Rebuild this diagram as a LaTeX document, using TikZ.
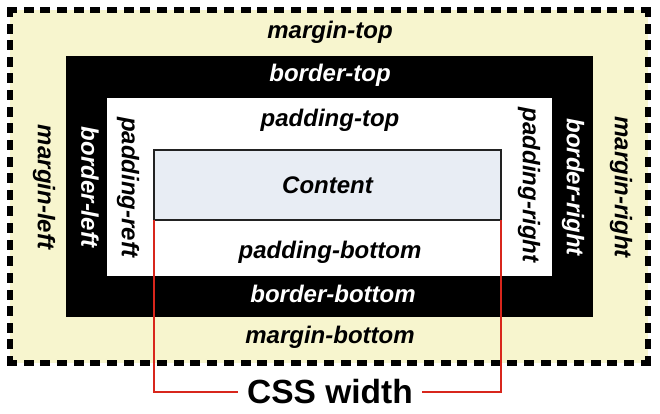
\documentclass[tikz,border=0pt]{standalone}
\usepackage{fontspec}
\setmainfont{Liberation Sans}
\definecolor{marginc}{HTML}{F7F5CE}
\definecolor{contentc}{HTML}{E8EDF4}
\definecolor{redc}{HTML}{D8261C}
\definecolor{edgec}{HTML}{222222}
\begin{document}
\begin{tikzpicture}[x=1pt,y=-1pt,
  area/.style={draw=none, inner sep=0pt, outer sep=0pt},
  lbl/.style={font=\fontsize{24}{28}\selectfont\bfseries\itshape, inner sep=0pt},
  wlbl/.style={lbl, text=white},
  vlbl/.style={lbl, rotate=-90},
  vwlbl/.style={wlbl, rotate=-90},
  dashside/.style={line width=6pt, line cap=rect, black},
  redline/.style={draw=redc, line width=2.5pt}]
\fill[white] (0,0) rectangle (660,414);
\useasboundingbox (0,0) rectangle (660,414);
% areas
\node[area, fill=marginc, minimum width=638pt, minimum height=353pt] (margin) at (329,186.5) {};
\node[area, fill=black, minimum width=527pt, minimum height=261pt] (border) at (329.5,186.5) {};
\node[area, fill=white, minimum width=445pt, minimum height=178pt] (padding) at (329.5,187) {};
\node[area, fill=contentc, draw=edgec, line width=1.5pt, minimum width=347pt, minimum height=70pt, font=\fontsize{24}{28}\selectfont\bfseries\itshape] (content) at (327.5,185) {Content};
% dashed margin outline
\draw[dashside, dash pattern=on 4pt off 12.68pt] (margin.north west) -- (margin.north east);
\draw[dashside, dash pattern=on 4pt off 12.68pt] (margin.south west) -- (margin.south east);
\draw[dashside, dash pattern=on 4pt off 12.62pt] (margin.north west) -- (margin.south west);
\draw[dashside, dash pattern=on 4pt off 12.62pt] (margin.north east) -- (margin.south east);
% horizontal labels
\node[lbl] (mt) at (330,32) {margin-top};
\node[wlbl] (bt) at (330,75) {border-top};
\node[lbl] (pt) at (330,120) {padding-top};
\node[lbl] (pb) at (330,252) {padding-bottom};
\node[wlbl] (bb) at (333,294) {border-bottom};
\node[lbl] (mb) at (330,337) {margin-bottom};
% vertical labels
\node[vlbl] (ml) at (44,187) {margin-left};
\node[vwlbl] (bl) at (90,187) {border-left};
\node[vlbl] (pl) at (128,187) {padding-reft};
\node[vlbl] (mr) at (621,187) {margin-right};
\node[vwlbl] (br) at (573,187) {border-right};
\node[vlbl] (pr) at (529,185) {padding-right};
% CSS width bracket
\node[font=\fontsize{33.5}{38}\selectfont\bfseries, inner xsep=9pt, inner ysep=0pt] (css) at (330,392) {CSS width};
\draw[redline] (content.south west) |- (css.west);
\draw[redline] (content.south east) |- (css.east);
\end{tikzpicture}
\end{document}
